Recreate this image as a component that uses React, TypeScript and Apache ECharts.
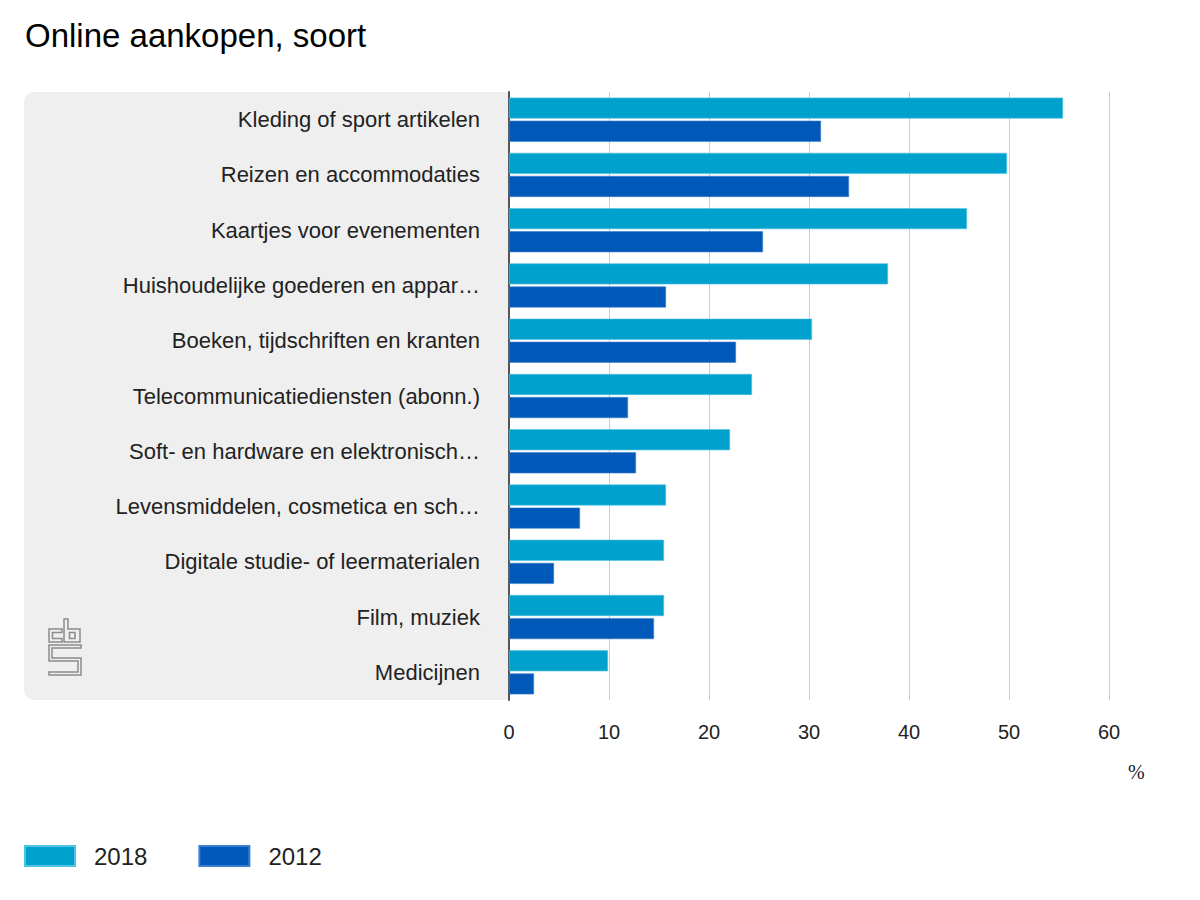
import React, { useEffect, useRef } from "react";
import * as echarts from "echarts";

const categories = [
  "Kleding of sport artikelen",
  "Reizen en accommodaties",
  "Kaartjes voor evenementen",
  "Huishoudelijke goederen en appar…",
  "Boeken, tijdschriften en kranten",
  "Telecommunicatiediensten (abonn.)",
  "Soft- en hardware en elektronisch…",
  "Levensmiddelen, cosmetica en sch…",
  "Digitale studie- of leermaterialen",
  "Film, muziek",
  "Medicijnen",
];
const values2018 = [55.4, 49.8, 45.8, 37.9, 30.3, 24.3, 22.1, 15.7, 15.5, 15.5, 9.9];
const values2012 = [31.2, 34.0, 25.4, 15.7, 22.7, 11.9, 12.7, 7.1, 4.5, 14.5, 2.5];
const seriesNames = ["2018", "2012"];
const xTicks = { min: 0, max: 60, interval: 10 };

const FONT = "'Liberation Sans', Arial, Helvetica, sans-serif";
const LOGO = "#8c8c8c";

export default function App() {
  const ref = useRef<HTMLDivElement>(null);
  useEffect(() => {
    if (!ref.current) return;
    const chart = echarts.init(ref.current, undefined, { renderer: "svg" });
    const logoStyle = { stroke: LOGO, fill: "none", lineWidth: 1.5 };
    chart.setOption({
      animation: false,
      backgroundColor: "#ffffff",
      title: {
        text: "Online aankopen, soort",
        left: 12,
        top: 6,
        textStyle: { fontFamily: FONT, fontSize: 33, fontWeight: "normal", color: "#000" },
      },
      legend: {
        left: 11,
        top: 831,
        itemWidth: 50,
        itemHeight: 20,
        itemGap: 51,
        icon: "rect",
        data: seriesNames,
        textStyle: { fontFamily: FONT, fontSize: 24, color: "#222", padding: [0, 0, 0, 14] },
      },
      graphic: [
        {
          type: "rect",
          left: 16,
          top: 84,
          z: -10,
          shape: { x: 0, y: 0, width: 485, height: 608, r: [10, 0, 0, 10] },
          style: { fill: "#efefef" },
        },
        {
          type: "text",
          left: 1120,
          top: 754,
          style: { text: "%", font: "20px 'Liberation Serif', 'Times New Roman', serif", fill: "#222" },
        },
        {
          type: "group",
          x: -8,
          y: -8,
          children: [
            {
              type: "polygon",
              shape: { points: [[62, 629], [49, 629], [49, 642], [62, 642], [62, 638.5], [52.5, 638.5], [52.5, 632.5], [62, 632.5]] },
              style: logoStyle,
            },
            {
              type: "polygon",
              shape: { points: [[64, 619], [68, 619], [68, 629], [80, 629], [80, 642], [64, 642]] },
              style: logoStyle,
            },
            {
              type: "polygon",
              shape: { points: [[69.5, 632.5], [75, 632.5], [75, 638.5], [69.5, 638.5]] },
              style: logoStyle,
            },
            {
              type: "polygon",
              shape: {
                points: [
                  [81, 645], [49, 645], [49, 661], [78, 661], [78, 672], [49, 672], [49, 675],
                  [81, 675], [81, 658], [52, 658], [52, 648], [81, 648],
                ],
              },
              style: logoStyle,
            },
          ],
        },
      ],
      grid: { left: 501, top: 84, width: 600, height: 608, containLabel: false },
      xAxis: {
        type: "value",
        min: xTicks.min,
        max: xTicks.max,
        interval: xTicks.interval,
        axisLine: { show: false },
        axisTick: { show: false },
        axisLabel: { margin: 22, fontFamily: FONT, fontSize: 20, color: "#222" },
        splitLine: { show: true, lineStyle: { color: "#cccccc", width: 1 } },
      },
      yAxis: {
        type: "category",
        data: categories,
        inverse: true,
        axisLine: { show: true, lineStyle: { color: "#555555", width: 2 } },
        axisTick: { show: false },
        axisLabel: { margin: 29, fontFamily: FONT, fontSize: 22, color: "#222" },
        splitLine: { show: false },
      },
      series: [
        {
          name: seriesNames[0],
          type: "bar",
          data: values2018,
          barWidth: 21,
          barGap: "10%",
          itemStyle: { color: "#00a1cd", borderColor: "#4fc3e3", borderWidth: 0.6 },
        },
        {
          name: seriesNames[1],
          type: "bar",
          data: values2012,
          barWidth: 21,
          barGap: "10%",
          itemStyle: { color: "#0058b8", borderColor: "#3a7fd0", borderWidth: 0.6 },
        },
      ],
    });
    return () => chart.dispose();
  }, []);
  return <div ref={ref} style={{ width: 1184, height: 884 }} />;
}
